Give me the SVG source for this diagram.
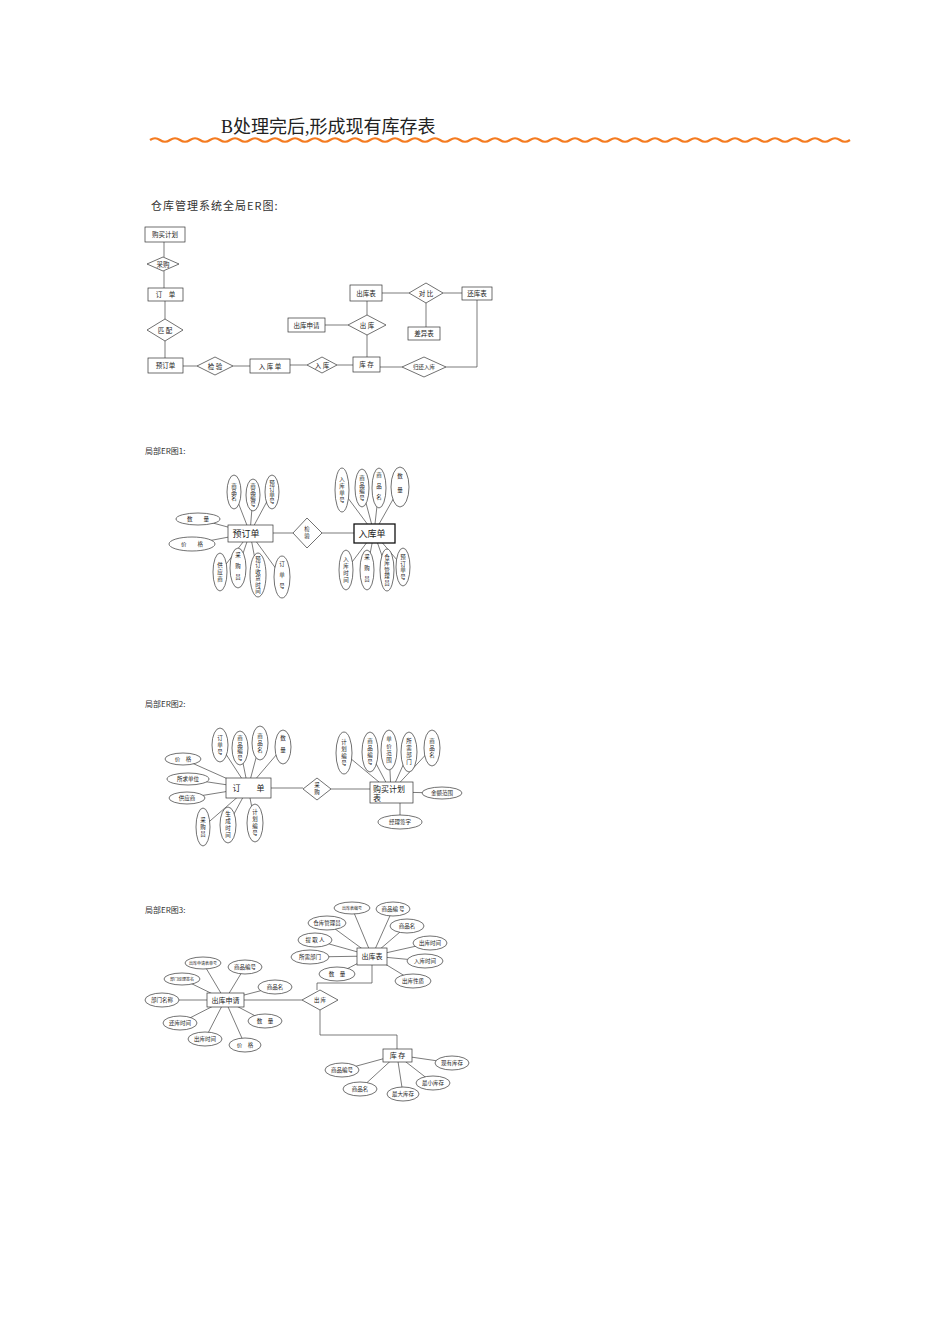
<svg xmlns="http://www.w3.org/2000/svg" width="950" height="1344" viewBox="0 0 950 1344">
<style>
.s{fill:#fff;stroke:#333;stroke-width:0.7}
.k{fill:#fff;stroke:#111;stroke-width:1.3}
.c{fill:none;stroke:#444;stroke-width:0.7}
text{font-family:"Noto Sans CJK SC","Noto Sans",sans-serif;fill:#222;text-anchor:middle}
.t{font-size:5.5px}
.g{font-size:6.5px}
.m{font-size:8px}
.x{font-size:4px}
.lab{font-size:8px;text-anchor:start;fill:#333}
</style>
<rect width="950" height="1344" fill="#fff"/>
<g id="title">
<text x="221" y="133" style="font-family:'Liberation Serif','Noto Sans CJK SC',serif;font-size:18px;text-anchor:start">B处理完后,形成现有库存表</text>
<path d="M150 140 q5 -3.5 10 0 t10 0 t10 0 t10 0 t10 0 t10 0 t10 0 t10 0 t10 0 t10 0 t10 0 t10 0 t10 0 t10 0 t10 0 t10 0 t10 0 t10 0 t10 0 t10 0 t10 0 t10 0 t10 0 t10 0 t10 0 t10 0 t10 0 t10 0 t10 0 t10 0 t10 0 t10 0 t10 0 t10 0 t10 0 t10 0 t10 0 t10 0 t10 0 t10 0 t10 0 t10 0 t10 0 t10 0 t10 0 t10 0 t10 0 t10 0 t10 0 t10 0 t10 0 t10 0 t10 0 t10 0 t10 0 t10 0 t10 0 t10 0 t10 0 t10 0 t10 0 t10 0 t10 0 t10 0 t10 0 t10 0 t10 0 t10 0 t10 0 t10 0" fill="none" stroke="#f47b20" stroke-width="2.2"/>
</g>
<g id="labels">
<text class="lab" x="151" y="210" style="font-size:11px;letter-spacing:1px">仓库管理系统全局ER图:</text>
<text class="lab" x="145" y="454">局部ER图1:</text>
<text class="lab" x="145" y="707">局部ER图2:</text>
<text class="lab" x="145" y="913">局部ER图3:</text>
</g>
<g id="connectors">
<path class="c" d="M164 242V257M164 271V288M165 301V319M165 341V358M183 366H197M233 366H250M290 365H307M337 365H353M367 335V357M367 315V301M325 325H348M382 293H409M443 293H462M426 303V327M380 367H402M446 367H477V300"/>
<path class="c" d="M250 533L234 492M250 533L253 495M250 533L272 492M250 533L198 519M250 533L192 544M250 533L220 572M250 533L238 568M250 533L258 575M250 533L282 577M273 533H293M322 533H354"/>
<path class="c" d="M374 533L342 490M374 533L362 488M374 533L379 488M374 533L400 487M374 533L346 570M374 533L367 570M374 533L387 570M374 533L403 567"/>
<path class="c" d="M248 788L220 745M248 788L240 748M248 788L260 743M248 788L283 747M248 788L183 759M248 788L188 779M248 788L187 798M248 788L203 827M248 788L228 825M248 788L255 823M271 788H303M331 789H370"/>
<path class="c" d="M391 792L344 753M391 792L370 752M391 792L389 750M391 792L409 752M391 792L432 748M391 792L442 793M400 803V822"/>
<path class="c" d="M225 1000L203 963M225 1000L245 967M225 1000L182 979M225 1000L275 987M225 1000L162 1000M225 1000L265 1021M225 1000L180 1023M225 1000L205 1039M225 1000L245 1045M244 1000H302"/>
<path class="c" d="M372 956L352 908M372 956L393 909M372 956L327 923M372 956L407 926M372 956L315 940M372 956L430 943M372 956L310 957M372 956L425 961M372 956L337 974M372 956L413 981M372 965V983H317V990M320 1010V1035H397V1049"/>
<path class="c" d="M397 1055L342 1070M397 1055L360 1089M397 1055L403 1094M397 1055L433 1083M397 1055L452 1063"/>
</g>
<g id="global">
<g id="g-gmjh"><rect class="s" x="145" y="227" width="40" height="15"/><text class="g" x="165" y="237">购买计划</text></g>
<g id="g-cg"><polygon class="s" points="147,264 163,257 179,264 163,271"/><text class="g" x="163" y="266.5">采购</text></g>
<g id="g-dd"><rect class="s" x="148" y="288" width="35" height="13"/><text class="g" x="165.5" y="297">订　单</text></g>
<g id="g-pp"><polygon class="s" points="147,330 165,319 183,330 165,341"/><text class="g" x="165" y="332.5">匹 配</text></g>
<g id="g-ydd"><rect class="s" x="148" y="358" width="35" height="15"/><text class="g" x="165.5" y="368">预订单</text></g>
<g id="g-jy"><polygon class="s" points="197,366 215,357 233,366 215,375"/><text class="g" x="215" y="368.5">检 验</text></g>
<g id="g-rkd"><rect class="s" x="250" y="359" width="40" height="14"/><text class="g" x="270" y="368.5">入 库 单</text></g>
<g id="g-rk"><polygon class="s" points="307,365 322,357 337,365 322,373"/><text class="g" x="322" y="367.5">入 库</text></g>
<g id="g-kc"><rect class="s" x="353" y="357" width="27" height="15"/><text class="g" x="366.5" y="367">库 存</text></g>
<g id="g-ghrk"><polygon class="s" points="402,367 424,357 446,367 424,377"/><text class="t" x="424" y="369">归还入库</text></g>
<g id="g-hkb"><rect class="s" x="462" y="287" width="30" height="13"/><text class="g" x="477" y="296">还库表</text></g>
<g id="g-ckb"><rect class="s" x="350" y="285" width="32" height="16"/><text class="g" x="366" y="295.5">出库表</text></g>
<g id="g-db"><polygon class="s" points="409,293 426,283 443,293 426,303"/><text class="g" x="426" y="295.5">对 比</text></g>
<g id="g-cyb"><rect class="s" x="408" y="327" width="32" height="13"/><text class="g" x="424" y="336">差异表</text></g>
<g id="g-ck"><polygon class="s" points="348,325 367,315 386,325 367,335"/><text class="g" x="367" y="327.5">出 库</text></g>
<g id="g-cksq"><rect class="s" x="288" y="318" width="37" height="14"/><text class="g" x="306.5" y="327.5">出库申请</text></g>
</g>
<g id="er1">
<g id="e1-ydd"><rect class="s" x="228" y="525" width="45" height="17"/><text style="font-size:9px" x="246" y="537">预订单</text></g>
<g id="e1-a1"><ellipse class="s" cx="234" cy="492" rx="7" ry="17"/><text class="t"><tspan x="234" y="488">商</tspan><tspan x="234" dy="6">品</tspan><tspan x="234" dy="6">名</tspan></text></g>
<g id="e1-a2"><ellipse class="s" cx="253" cy="495" rx="7" ry="16"/><text class="t"><tspan x="253" y="488">商</tspan><tspan x="253" dy="6">品</tspan><tspan x="253" dy="6">编</tspan><tspan x="253" dy="6">号</tspan></text></g>
<g id="e1-a3"><ellipse class="s" cx="272" cy="492" rx="7" ry="17"/><text class="t"><tspan x="272" y="485">预</tspan><tspan x="272" dy="6">订</tspan><tspan x="272" dy="6">单</tspan><tspan x="272" dy="6">号</tspan></text></g>
<g id="e1-a4"><ellipse class="s" cx="198" cy="519" rx="22" ry="6"/><text class="t" x="198" y="521">数　　量</text></g>
<g id="e1-a5"><ellipse class="s" cx="192" cy="544" rx="23" ry="7"/><text class="t" x="192" y="546">价　　格</text></g>
<g id="e1-a6"><ellipse class="s" cx="220" cy="572" rx="7" ry="19"/><text class="t"><tspan x="220" y="566.5">供</tspan><tspan x="220" dy="7">应</tspan><tspan x="220" dy="7">商</tspan></text></g>
<g id="e1-a7"><ellipse class="s" cx="238" cy="568" rx="8" ry="20"/><text class="t"><tspan x="238" y="556.5">采</tspan><tspan x="238" dy="11">购</tspan><tspan x="238" dy="11">员</tspan></text></g>
<g id="e1-a8"><ellipse class="s" cx="258" cy="575" rx="8" ry="22"/><text class="t"><tspan x="258" y="560.5">预</tspan><tspan x="258" dy="6.5">订</tspan><tspan x="258" dy="6.5">收</tspan><tspan x="258" dy="6.5">货</tspan><tspan x="258" dy="6.5">时</tspan><tspan x="258" dy="6.5">间</tspan></text></g>
<g id="e1-a9"><ellipse class="s" cx="282" cy="577" rx="8" ry="21"/><text class="t"><tspan x="282" y="565.5">订</tspan><tspan x="282" dy="11">单</tspan><tspan x="282" dy="11">号</tspan></text></g>
<g id="e1-jy"><polygon class="s" points="293,533 307,518 322,533 307,548"/><text class="t"><tspan x="307" y="530.5">检</tspan><tspan x="307" dy="7">验</tspan></text></g>
<g id="e1-rkd"><rect class="k" x="354" y="524" width="41" height="19"/><text style="font-size:9px" x="372" y="537">入库单</text></g>
<g id="e1-b1"><ellipse class="s" cx="342" cy="490" rx="7" ry="22"/><text class="t"><tspan x="342" y="481">入</tspan><tspan x="342" dy="7">库</tspan><tspan x="342" dy="7">单</tspan><tspan x="342" dy="7">号</tspan></text></g>
<g id="e1-b2"><ellipse class="s" cx="362" cy="488" rx="7" ry="19"/><text class="t"><tspan x="362" y="480">商</tspan><tspan x="362" dy="6.5">品</tspan><tspan x="362" dy="6.5">编</tspan><tspan x="362" dy="6.5">号</tspan></text></g>
<g id="e1-b3"><ellipse class="s" cx="379" cy="488" rx="7" ry="20"/><text class="t"><tspan x="379" y="476.5">商</tspan><tspan x="379" dy="11">品</tspan><tspan x="379" dy="11">名</tspan></text></g>
<g id="e1-b4"><ellipse class="s" cx="400" cy="487" rx="9" ry="20"/><text class="t"><tspan x="400" y="478">数</tspan><tspan x="400" dy="14">量</tspan></text></g>
<g id="e1-b5"><ellipse class="s" cx="346" cy="570" rx="7" ry="20"/><text class="t"><tspan x="346" y="561">入</tspan><tspan x="346" dy="7">库</tspan><tspan x="346" dy="7">时</tspan><tspan x="346" dy="7">间</tspan></text></g>
<g id="e1-b6"><ellipse class="s" cx="367" cy="570" rx="7" ry="20"/><text class="t"><tspan x="367" y="558.5">采</tspan><tspan x="367" dy="11">购</tspan><tspan x="367" dy="11">员</tspan></text></g>
<g id="e1-b7"><ellipse class="s" cx="387" cy="570" rx="7" ry="21"/><text class="t"><tspan x="387" y="558.7">仓</tspan><tspan x="387" dy="6.5">库</tspan><tspan x="387" dy="6.5">管</tspan><tspan x="387" dy="6.5">理</tspan><tspan x="387" dy="6.5">员</tspan></text></g>
<g id="e1-b8"><ellipse class="s" cx="403" cy="567" rx="7" ry="19"/><text class="t"><tspan x="403" y="559">预</tspan><tspan x="403" dy="6.5">订</tspan><tspan x="403" dy="6.5">单</tspan><tspan x="403" dy="6.5">号</tspan></text></g>
</g>
<g id="er2">
<g id="e2-dd"><rect class="s" x="226" y="778" width="45" height="20"/><text class="m" x="248.5" y="791">订　　单</text></g>
<g id="e2-a1"><ellipse class="s" cx="220" cy="745" rx="8" ry="17"/><text class="t"><tspan x="220" y="739.5">订</tspan><tspan x="220" dy="7">单</tspan><tspan x="220" dy="7">号</tspan></text></g>
<g id="e2-a2"><ellipse class="s" cx="240" cy="748" rx="8" ry="17"/><text class="t"><tspan x="240" y="740">商</tspan><tspan x="240" dy="6.5">品</tspan><tspan x="240" dy="6.5">编</tspan><tspan x="240" dy="6.5">号</tspan></text></g>
<g id="e2-a3"><ellipse class="s" cx="260" cy="743" rx="8" ry="17"/><text class="t"><tspan x="260" y="737.5">商</tspan><tspan x="260" dy="7">品</tspan><tspan x="260" dy="7">名</tspan></text></g>
<g id="e2-a4"><ellipse class="s" cx="283" cy="747" rx="8" ry="17"/><text class="t"><tspan x="283" y="740">数</tspan><tspan x="283" dy="12">量</tspan></text></g>
<g id="e2-a5"><ellipse class="s" cx="183" cy="759" rx="18" ry="6"/><text class="t" x="183" y="761">价　格</text></g>
<g id="e2-a6"><ellipse class="s" cx="188" cy="779" rx="21" ry="6"/><text class="t" x="188" y="781">所求单位</text></g>
<g id="e2-a7"><ellipse class="s" cx="187" cy="798" rx="18" ry="6"/><text class="t" x="187" y="800">供应商</text></g>
<g id="e2-a8"><ellipse class="s" cx="203" cy="827" rx="7" ry="19"/><text class="t"><tspan x="203" y="821.5">采</tspan><tspan x="203" dy="7">购</tspan><tspan x="203" dy="7">员</tspan></text></g>
<g id="e2-a9"><ellipse class="s" cx="228" cy="825" rx="8" ry="18"/><text class="t"><tspan x="228" y="816">生</tspan><tspan x="228" dy="7">成</tspan><tspan x="228" dy="7">时</tspan><tspan x="228" dy="7">间</tspan></text></g>
<g id="e2-a10"><ellipse class="s" cx="255" cy="823" rx="8" ry="19"/><text class="t"><tspan x="255" y="814">计</tspan><tspan x="255" dy="7">划</tspan><tspan x="255" dy="7">编</tspan><tspan x="255" dy="7">号</tspan></text></g>
<g id="e2-cg"><polygon class="s" points="303,789 317,778 331,789 317,800"/><text class="t"><tspan x="317" y="787">采</tspan><tspan x="317" dy="7">购</tspan></text></g>
<g id="e2-gmjhb"><rect class="s" x="370" y="782" width="43" height="21"/><text class="m" x="373" y="792" style="text-anchor:start">购买计划</text><text class="m" x="373" y="801" style="text-anchor:start">表</text></g>
<g id="e2-b1"><ellipse class="s" cx="344" cy="753" rx="8" ry="21"/><text class="t"><tspan x="344" y="744">计</tspan><tspan x="344" dy="7">划</tspan><tspan x="344" dy="7">编</tspan><tspan x="344" dy="7">号</tspan></text></g>
<g id="e2-b2"><ellipse class="s" cx="370" cy="752" rx="8" ry="20"/><text class="t"><tspan x="370" y="743">商</tspan><tspan x="370" dy="7">品</tspan><tspan x="370" dy="7">编</tspan><tspan x="370" dy="7">号</tspan></text></g>
<g id="e2-b3"><ellipse class="s" cx="389" cy="750" rx="8" ry="20"/><text class="t"><tspan x="389" y="741">单</tspan><tspan x="389" dy="7">价</tspan><tspan x="389" dy="7">范</tspan><tspan x="389" dy="7">围</tspan></text></g>
<g id="e2-b4"><ellipse class="s" cx="409" cy="752" rx="8" ry="20"/><text class="t"><tspan x="409" y="743">所</tspan><tspan x="409" dy="7">需</tspan><tspan x="409" dy="7">部</tspan><tspan x="409" dy="7">门</tspan></text></g>
<g id="e2-b5"><ellipse class="s" cx="432" cy="748" rx="8" ry="18"/><text class="t"><tspan x="432" y="742.5">商</tspan><tspan x="432" dy="7">品</tspan><tspan x="432" dy="7">名</tspan></text></g>
<g id="e2-b6"><ellipse class="s" cx="442" cy="793" rx="20" ry="6"/><text class="t" x="442" y="795">金额范围</text></g>
<g id="e2-b7"><ellipse class="s" cx="400" cy="822" rx="22" ry="7"/><text class="t" x="400" y="824">经理签字</text></g>
</g>
<g id="er3">
<g id="e3-cksq"><rect class="s" x="207" y="993" width="37" height="14"/><text style="font-size:7px" x="225.5" y="1002.5">出库申请</text></g>
<g id="e3-a1"><ellipse class="s" cx="203" cy="963" rx="18" ry="6"/><text class="x" x="203" y="964.5">出库申请表单号</text></g>
<g id="e3-a2"><ellipse class="s" cx="245" cy="967" rx="17" ry="7"/><text class="t" x="245" y="969">商品编号</text></g>
<g id="e3-a3"><ellipse class="s" cx="182" cy="979" rx="18" ry="6"/><text class="x" x="182" y="980.5">部门经理签名</text></g>
<g id="e3-a4"><ellipse class="s" cx="275" cy="987" rx="17" ry="7"/><text class="t" x="275" y="989">商品名</text></g>
<g id="e3-a5"><ellipse class="s" cx="162" cy="1000" rx="17" ry="7"/><text class="t" x="162" y="1002">部门名称</text></g>
<g id="e3-a6"><ellipse class="s" cx="265" cy="1021" rx="17" ry="7"/><text class="t" x="265" y="1023">数　量</text></g>
<g id="e3-a7"><ellipse class="s" cx="180" cy="1023" rx="17" ry="7"/><text class="t" x="180" y="1025">还库时间</text></g>
<g id="e3-a8"><ellipse class="s" cx="205" cy="1039" rx="17" ry="7"/><text class="t" x="205" y="1041">出库时间</text></g>
<g id="e3-a9"><ellipse class="s" cx="245" cy="1045" rx="16" ry="7"/><text class="t" x="245" y="1047">价　格</text></g>
<g id="e3-ckb"><rect class="s" x="357" y="948" width="30" height="17"/><text style="font-size:7px" x="372" y="959">出库表</text></g>
<g id="e3-b1"><ellipse class="s" cx="352" cy="908" rx="18" ry="6"/><text class="x" x="352" y="909.5">出库表编号</text></g>
<g id="e3-b2"><ellipse class="s" cx="393" cy="909" rx="17" ry="7"/><text class="t" x="393" y="911">商品编 号</text></g>
<g id="e3-b3"><ellipse class="s" cx="327" cy="923" rx="19" ry="7"/><text class="t" x="327" y="925">仓库管理员</text></g>
<g id="e3-b4"><ellipse class="s" cx="407" cy="926" rx="17" ry="7"/><text class="t" x="407" y="928">商品名</text></g>
<g id="e3-b5"><ellipse class="s" cx="315" cy="940" rx="17" ry="7"/><text class="t" x="315" y="942">提 取 人</text></g>
<g id="e3-b6"><ellipse class="s" cx="430" cy="943" rx="17" ry="7"/><text class="t" x="430" y="945">出库时间</text></g>
<g id="e3-b7"><ellipse class="s" cx="310" cy="957" rx="19" ry="7"/><text class="t" x="310" y="959">所需部门</text></g>
<g id="e3-b8"><ellipse class="s" cx="425" cy="961" rx="18" ry="7"/><text class="t" x="425" y="963">入库时间</text></g>
<g id="e3-b9"><ellipse class="s" cx="337" cy="974" rx="18" ry="7"/><text class="t" x="337" y="976">数　量</text></g>
<g id="e3-b10"><ellipse class="s" cx="413" cy="981" rx="18" ry="7"/><text class="t" x="413" y="983">出库性质</text></g>
<g id="e3-ck"><polygon class="s" points="302,1000 320,990 338,1000 320,1010"/><text class="t" x="320" y="1002">出 库</text></g>
<g id="e3-kc"><rect class="s" x="383" y="1049" width="29" height="13"/><text style="font-size:7px" x="397.5" y="1058">库 存</text></g>
<g id="e3-c1"><ellipse class="s" cx="342" cy="1070" rx="17" ry="7"/><text class="t" x="342" y="1072">商品编号</text></g>
<g id="e3-c2"><ellipse class="s" cx="360" cy="1089" rx="17" ry="7"/><text class="t" x="360" y="1091">商品名</text></g>
<g id="e3-c3"><ellipse class="s" cx="403" cy="1094" rx="16" ry="7"/><text class="t" x="403" y="1096">最大库存</text></g>
<g id="e3-c4"><ellipse class="s" cx="433" cy="1083" rx="17" ry="7"/><text class="t" x="433" y="1085">最小库存</text></g>
<g id="e3-c5"><ellipse class="s" cx="452" cy="1063" rx="17" ry="7"/><text class="t" x="452" y="1065">现有库存</text></g>
</g>
</svg>
